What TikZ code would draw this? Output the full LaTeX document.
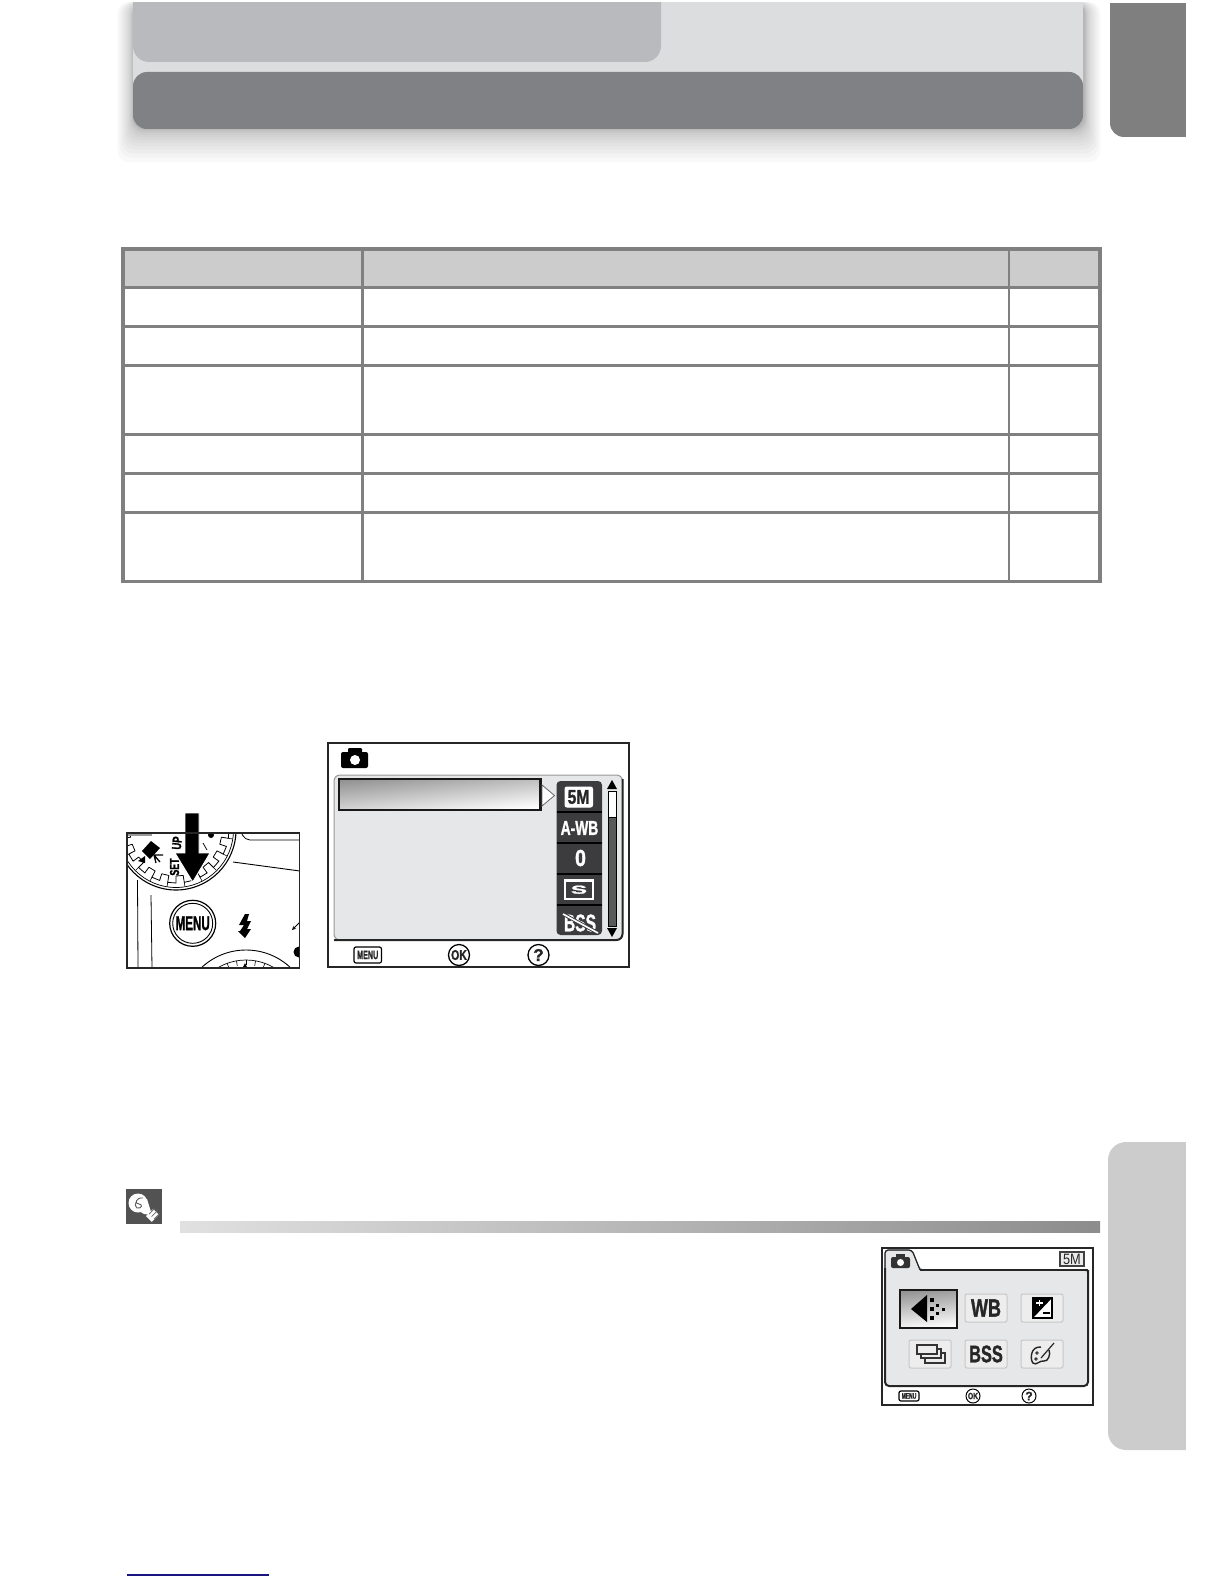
\documentclass[tikz,border=0pt]{standalone}
\usepackage{fontspec}
\usepackage{xcolor}
\usepackage{tikz}
\setmainfont[BoldFeatures={FakeBold=1.6}]{Liberation Sans}
\definecolor{panelgray}{HTML}{DCDDDF}
\definecolor{boxgray}{HTML}{B9BABD}
\definecolor{bargray}{HTML}{808184}
\definecolor{tabgray}{HTML}{7F7F7F}
\definecolor{sidegray}{HTML}{CCCCCC}
\definecolor{rulegray}{HTML}{808080}
\definecolor{lcdgray}{HTML}{E6E7E8}
\definecolor{lcddark}{HTML}{3C3C3E}
\definecolor{navyline}{HTML}{1A1480}
\newcommand{\lcdsize}[1]{\fontsize{#1}{#1}\selectfont}
\newcommand{\narrowtext}[2]{\scalebox{#1}[1]{#2}}
\tikzset{
  rulewide/.style={draw=rulegray, line width=3},
  ruleslim/.style={draw=rulegray, line width=2.6},
  frame/.style={draw=black!85, line width=1.8, fill=white},
  lcdword/.style={inner sep=0pt, text=white, font=\bfseries},
  softbtn/.style={draw=black!22, fill=white!93!black, line width=1, rounded corners=2pt},
  btnword/.style={inner sep=0pt, text=black!85, font=\bfseries},
  hintfade/.style={draw=black!90, line width=2.6, shading=axis, top color=black!42, middle color=white!96!black, bottom color=white, shading angle=6}
}
\begin{document}
\begin{tikzpicture}[x=1pt,y=-1pt]
  \useasboundingbox (0,0) rectangle (1224,1584);

  % Header shadow
  \foreach \i in {14,13,...,1}
    \fill[black, opacity=0.024, rounded corners=12pt] (133-\i*\i*0.08,2) rectangle (1085+\i*\i*0.08,129+\i*\i*0.17);
  % Header
  \fill[panelgray] (133,2) rectangle (1083,110);
  \fill[boxgray, rounded corners=16pt] (133,-30) rectangle (661,62);
  \fill[bargray, rounded corners=14pt] (133,72) rectangle (1083,129);
  \fill[white] (0,0) rectangle (1224,2);

  % Side tabs
  \fill[tabgray, rounded corners=14pt] (1110,-20) rectangle (1210,137);
  \fill[sidegray, rounded corners=18pt] (1108,1142) rectangle (1210,1450);
  \fill[white] (1186,0) rectangle (1224,1584);
  \fill[white] (1100,0) rectangle (1224,3);

  % Table
  \fill[sidegray] (123,249) rectangle (1100,287);
  \foreach \y in {287,326,365,434,473,512}
    \draw[rulewide] (123,\y) -- (1100,\y);
  \foreach \x in {362.5,1009}
    \draw[ruleslim] (\x,249) -- (\x,582);
  \draw[rulegray, line width=3.4] (123,249) rectangle (1100,581.7);

  % Dial illustration
  \begin{scope}
    \clip (127,833) rectangle (299.5,968);
    \draw[line width=1.1] (176,830) circle[radius=60];
    \draw[line width=0.7] (176,830) circle[radius=57.5];
    \foreach \a in {0,18,...,342} {
      \draw[line width=0.8] (176,830)+(\a:46) -- +(\a:53) -- +(\a+9:53) -- +(\a+9:46) -- +(\a+18:46);
      \draw[line width=0.6] (176,830)+(\a+9:53) -- +(\a+9:57);
    }
    \fill[white] (176,830) circle[radius=45];
    \fill[white] (170,805) rectangle (195,832);
    % Video mode mark
    \fill (142,851) -- (151,841) -- (160,848) -- (150,859) -- cycle;
    \fill (138,861) -- (145,856) -- (145,863) -- cycle;
    \draw[line width=1.3] (154,855) -- (163,855) (154,855) -- (160,862) (154,855) -- (156,863);
    \node[inner sep=0pt, font=\bfseries\lcdsize{13}, rotate=90] (setword) at (174.5,867) {\narrowtext{.68}{SET}};
    \node[inner sep=0pt, font=\bfseries\lcdsize{13}, rotate=85] (upword) at (177,843) {\narrowtext{.72}{UP}};
    \fill (211,835) circle[radius=3];
    \draw[line width=0.8] (203,843) -- (207,850);
    % Body lines
    \draw[line width=0.8, rounded corners=5pt] (240,830) -- (245,840) -- (305,840);
    \draw[line width=0.9] (233,862) -- (300,871);
    \draw[line width=0.8] (137.5,880) -- (138,968);
    \draw[line width=0.8] (151,895) -- (152,968);
    \fill[black!40] (127,833) rectangle (152,836);
    % Lower dial
    \draw[line width=0.9] (246,1015) circle[radius=65];
    \draw[line width=0.7] (246,1015) circle[radius=55];
    \foreach \a in {-120,-110,...,-60}
      \draw[line width=0.6] (246,1015)+(\a:55) -- +(\a:50);
    \fill (245,963) -- (243,967) -- (247,967) -- cycle;
    % Small arrow and knob
    \draw[line width=0.8, ->, >=stealth] (300,922) -- (292,930);
    \fill (299,952) circle[radius=5.5];
  \end{scope}
  % Menu button
  \draw[line width=1.2] (192.7,923.3) circle[radius=23];
  \draw[line width=0.9] (192.7,923.3) circle[radius=20];
  \node[inner sep=0pt, font=\bfseries\lcdsize{20}] (menubtn) at (192.7,923.3) {\narrowtext{.58}{MENU}};
  % Flash mark
  \fill (245,914) -- (239,925) -- (244,925) -- (240,931) -- (238,931) -- (245,938) -- (251,929) -- (247,929) -- (251,921) -- (247,921) -- (249,914) -- cycle;
  % Press arrow
  \draw[fill=black, draw=white, line width=0.9] (185,813) -- (199,813) -- (199,853) -- (210,853) -- (192.7,882) -- (175,853) -- (185,853) -- cycle;
  \fill[white] (180,805) rectangle (205,812.6);
  \draw[frame, fill=none] (127,833) rectangle (299.5,968);

  % Camera menu screen
  \draw[frame] (328,743) rectangle (629,967);
  \fill[black, rounded corners=2pt] (341,752) rectangle (368,768);
  \fill[black, rounded corners=1pt] (348,748) rectangle (362,754);
  \fill[white] (355,760) circle[radius=5];
  \draw[fill=lcdgray, draw=black!40, line width=1, rounded corners=6pt] (334,775) rectangle (622.5,940);
  \draw[line width=2, black!85, rounded corners=6pt] (622.5,779) -- (622.5,940) -- (334,940);
  \path[hintfade] (339,779) rectangle (540.5,810);
  \draw[fill=white, draw=black!60, line width=0.8] (542,785) -- (554.5,795.5) -- (542,806) -- cycle;
  % Icon column
  \fill[lcddark, rounded corners=4pt] (556.5,781) rectangle (602,935);
  \foreach \y in {812,843,874,905}
    \draw[black, line width=1.6] (556.5,\y) -- (602,\y);
  \draw[fill=white, draw=white, line width=1, rounded corners=2pt] (565,787) rectangle (592.5,807);
  \node[btnword, font=\bfseries\lcdsize{20}] (sizeicon) at (578.5,797) {\narrowtext{.78}{5M}};
  \node[lcdword, font=\bfseries\lcdsize{20}] (wbicon) at (579.5,828) {\narrowtext{.69}{A-WB}};
  \node[lcdword, font=\bfseries\lcdsize{23}] (evicon) at (580.5,858) {\narrowtext{.85}{0}};
  \draw[draw=white, line width=2.8] (565,880.5) rectangle (593,899);
  \node[lcdword, font=\bfseries\lcdsize{11.5}] (sharpicon) at (579,889.7) {\narrowtext{2.1}{S}};
  \node[lcdword, font=\bfseries\lcdsize{24}] (bssicon) at (580,923) {\narrowtext{.65}{BSS}};
  \draw[lcddark, line width=3.5] (563,914) -- (598,933);
  \draw[white, line width=1.6] (563,914) -- (598,933);
  % Scroll bar
  \fill (612,780) -- (617,789) -- (607,789) -- cycle;
  \fill (612,937) -- (617,928) -- (607,928) -- cycle;
  \draw[draw=black, fill=black!65, line width=1] (608,791) rectangle (616,926);
  \draw[draw=black, fill=white, line width=1] (608,791) rectangle (616,817);
  % Screen footer
  \draw[black, fill=white, line width=1.2, rounded corners=2pt] (354,947) rectangle (381.5,963);
  \node[btnword, font=\bfseries\lcdsize{12}] (menukey) at (367.7,955) {\narrowtext{.6}{MENU}};
  \draw[line width=1.3] (459,955) circle[radius=10.5];
  \node[btnword, font=\bfseries\lcdsize{14}] (okkey) at (459,955) {\narrowtext{.75}{OK}};
  \draw[line width=1.3] (538.5,955) circle[radius=10.5];
  \node[btnword, font=\bfseries\lcdsize{17}] (helpkey) at (538.5,955) {?};

  % Tip icon and strip
  \fill[black!68] (126,1189) rectangle (162,1224);
  \fill[white] (131,1206) -- (147,1199) -- (152,1215) -- (144,1214) -- cycle;
  \fill[white, rotate around={45:(151,1214)}] (146,1212) rectangle (156,1220);
  \fill[white] (138,1203) circle[radius=9.5];
  \draw[black!65, line width=0.9] (143,1198) .. controls (136,1197) and (134,1204) .. (139,1204) .. controls (143,1204) and (142,1209) .. (137,1208) .. controls (135,1207) and (135,1204) .. (136,1202);
  \foreach \d in {0,2.5,5}
    \draw[black!60, line width=0.7] (149+\d,1214+\d) -- (155+\d,1208+\d);
  \shade[left color=black!12, right color=black!45] (180,1221.5) rectangle (1100,1232.5);

  % Small menu screen
  \draw[frame] (882,1248) rectangle (1093,1405);
  \draw[fill=lcdgray, draw=black!40, line width=1, rounded corners=4pt] (885,1270) -- (885,1250) -- (912,1250) -- (920,1270) -- (1088,1270) -- (1088,1386) -- (885,1386) -- cycle;
  \draw[line width=1.2, black!85, rounded corners=3pt] (885,1270) -- (885,1250) -- (912,1250) -- (920,1270);
  \draw[line width=1.2, black!85, rounded corners=3pt] (920,1270) -- (1088,1270);
  \draw[line width=2, black!85, rounded corners=4pt] (1088,1270) -- (1088,1386) -- (885,1386) -- (885,1268);
  \fill[black!80, rounded corners=2pt] (891,1257) rectangle (910,1268);
  \fill[black!80] (896,1254) rectangle (905,1258);
  \fill[white] (900.5,1262.5) circle[radius=3.5];
  \draw[fill=black!8, draw=black!75, line width=2.6] (1060,1252) rectangle (1084,1266);
  \node[btnword, font=\lcdsize{15}] (sizetag) at (1072,1259) {\narrowtext{.85}{5M}};
  % Buttons
  \path[hintfade] (900,1290) rectangle (957,1328);
  \draw[softbtn] (965,1294) rectangle (1007,1322);
  \draw[softbtn] (1021,1294) rectangle (1063,1322);
  \draw[softbtn] (909,1340) rectangle (951,1368);
  \draw[softbtn] (965,1340) rectangle (1007,1368);
  \draw[softbtn] (1021,1340) rectangle (1063,1368);
  % Quality arrow
  \fill (911,1309) -- (927,1295) -- (927,1322) -- cycle;
  \foreach \y in {1300,1309,1318}
    \fill (930,\y-2) rectangle (934,\y+2);
  \foreach \y in {1305,1313}
    \fill (936,\y-1.5) rectangle (939,\y+1.5);
  \fill (942,1307.5) rectangle (945,1310.5);
  \node[btnword, font=\bfseries\lcdsize{25}] (wbbtn) at (986,1308) {\narrowtext{.72}{WB}};
  % Exposure square
  \draw[black, fill=white, line width=1.4] (1033,1298) rectangle (1052,1318);
  \fill (1033,1318) -- (1052,1298) -- (1033,1298) -- cycle;
  \draw[white, line width=1.4] (1036,1303) -- (1043,1303) (1039.5,1300) -- (1039.5,1306);
  \draw[black, line width=1.4] (1043,1313) -- (1050,1313);
  % Stack icon
  \draw[black!80, line width=1.4] (917,1345) rectangle (937,1354);
  \draw[black!80, line width=1.4] (937,1349) -- (941,1349) -- (941,1358) -- (921,1358) -- (921,1354);
  \draw[black!80, line width=1.4] (941,1353) -- (945,1353) -- (945,1363) -- (925,1363) -- (925,1358);
  \node[btnword, font=\bfseries\lcdsize{24}] (bssbtn) at (986,1354) {\narrowtext{.68}{BSS}};
  % Palette icon
  \draw[black!85, line width=1.4] (1041,1347) .. controls (1030,1346) and (1030,1360) .. (1033,1363) .. controls (1036,1366) and (1040,1360) .. (1044,1361) .. controls (1048,1362) and (1051,1354) .. (1049,1350);
  \draw[black!85, line width=1.2] (1041,1358) -- (1054,1343);
  \draw[black!85, line width=0.8] (1037,1353) circle[radius=1.3] (1036,1359) circle[radius=1.3];
  % Small footer
  \draw[black, fill=white, line width=1.2, rounded corners=2pt] (899,1391) rectangle (919,1401);
  \node[btnword, font=\bfseries\lcdsize{8}] (menutag) at (909,1396) {\narrowtext{.62}{MENU}};
  \draw[line width=1] (973,1396) circle[radius=7];
  \node[btnword, font=\bfseries\lcdsize{9}] (oktag) at (973,1396) {\narrowtext{.75}{OK}};
  \draw[line width=1] (1029,1396) circle[radius=7];
  \node[btnword, font=\bfseries\lcdsize{12}] (helptag) at (1029,1396) {?};

  % Foot line
  \draw[navyline, line width=1.3] (127,1575) -- (269,1575);
\end{tikzpicture}
\end{document}
